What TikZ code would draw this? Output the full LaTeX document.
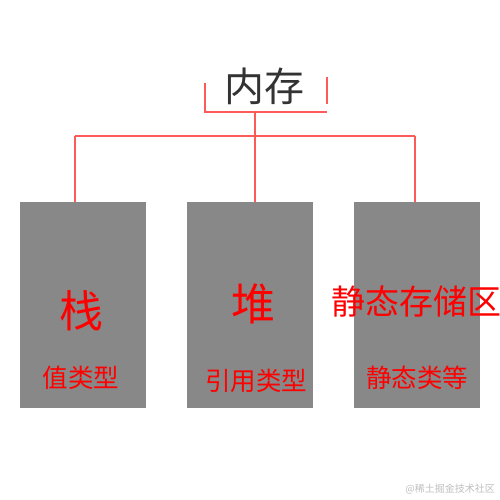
\documentclass[tikz,border=0pt]{standalone}
\usepackage{fontspec}
\setmainfont{Noto Sans CJK SC}
\begin{document}
\begin{tikzpicture}[x=1pt,y=-1pt,
  box/.style={draw=none,fill=boxgray,minimum width=126pt,minimum height=206pt,inner sep=0pt,anchor=north west},
  big/.style={text=red,font=\fontsize{44}{44}\selectfont,inner sep=0pt},
  mid/.style={text=red,font=\fontsize{34}{34}\selectfont,inner sep=0pt},
  small/.style={text=red,font=\fontsize{25.5}{26}\selectfont,inner sep=0pt},
  conn/.style={draw=linered,line width=2pt}]
\definecolor{boxgray}{HTML}{888888}
\definecolor{linered}{HTML}{FF5A5A}
\definecolor{titlegray}{HTML}{333333}
\useasboundingbox (0,0) rectangle (500,500);
\fill[white] (0,0) rectangle (500,500);
\node[box] (b1) at (20,202) {};
\node[box] (b2) at (187,202) {};
\node[box] (b3) at (354,202) {};
\node[text=titlegray,font=\fontsize{40}{40}\selectfont,inner sep=0pt] (t) at (264,86) {内存};
\coordinate (bl1) at (205,83);
\coordinate (bl2) at (205,112);
\coordinate (br1) at (327,77);
\coordinate (br2) at (327,104);
\coordinate (bm) at (255,112);
\coordinate (jm) at (255,136);
\coordinate (j1) at (75,136);
\coordinate (j3) at (415,136);
\draw[conn] (bl1) -- (bl2) -- (bl2 -| br1);
\draw[conn] (br1) -- (br2);
\draw[conn] (bm) -- (jm) -- (b2.north -| jm);
\draw[conn] (j1) -- (j3);
\draw[conn] (j1) -- (b1.north -| j1);
\draw[conn] (j3) -- (b3.north -| j3);
\node[big] (s1) at (81,311) {栈};
\node[big] (s2) at (253,304) {堆};
\node[mid] (s3) at (416,302) {静态存储区};
\node[small] (l1) at (81,378) {值类型};
\node[small] (l2) at (256,381) {引用类型};
\node[small] (l3) at (417,378) {静态类等};
\node[text=black!25,font=\fontsize{10}{10}\selectfont,inner sep=0pt,anchor=east] (wm) at (495,489) {@稀土掘金技术社区};
\end{tikzpicture}
\end{document}
